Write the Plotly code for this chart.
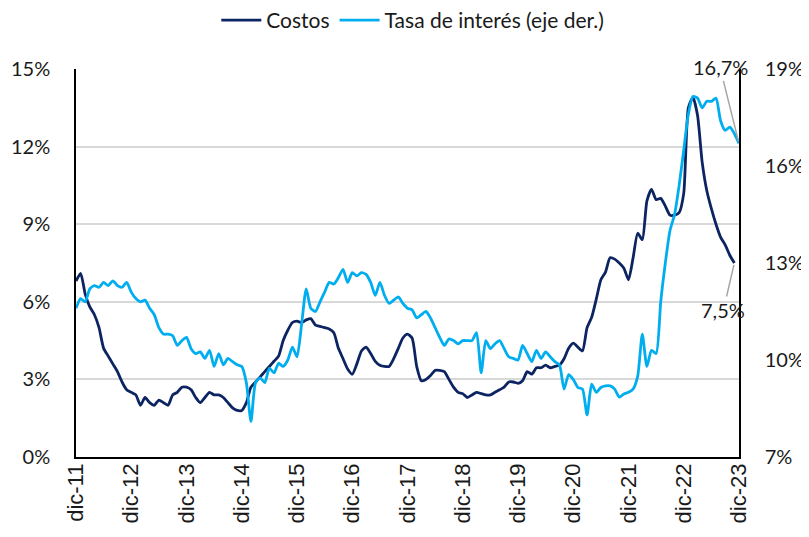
import plotly.graph_objects as go

tick_labels = ["dic-11", "dic-12", "dic-13", "dic-14", "dic-15", "dic-16", "dic-17",
               "dic-18", "dic-19", "dic-20", "dic-21", "dic-22", "dic-23"]
right_ticks = [7, 10, 13, 16, 19]
left_ticks = [0, 3, 6, 9, 12, 15]

costos = [6.8, 7.1, 6.3, 5.8, 5.5, 5.0, 4.2, 3.9, 3.6, 3.3, 2.9, 2.6,
          2.5, 2.4, 2.0, 2.3, 2.1, 2.0, 2.2, 2.1, 2.0, 2.4, 2.5, 2.7,
          2.7, 2.6, 2.3, 2.1, 2.3, 2.5, 2.4, 2.4, 2.3, 2.1, 1.9, 1.8,
          1.8, 2.1, 2.7, 2.9, 3.1, 3.3, 3.5, 3.7, 3.9, 4.5, 4.9, 5.2,
          5.25, 5.2, 5.3, 5.35, 5.1, 5.05, 5.0, 4.95, 4.8, 4.2, 3.8, 3.4,
          3.2, 3.6, 4.1, 4.25, 4.0, 3.7, 3.55, 3.5, 3.5, 3.8, 4.2, 4.6,
          4.75, 4.6, 3.5, 2.95, 3.0, 3.15, 3.35, 3.35, 3.3, 3.0, 2.7, 2.5,
          2.45, 2.3, 2.4, 2.5, 2.45, 2.4, 2.4, 2.5, 2.6, 2.7, 2.9, 2.9,
          2.85, 2.95, 3.3, 3.2, 3.45, 3.45, 3.55, 3.45, 3.5, 3.55, 3.8, 4.2,
          4.4, 4.25, 4.1, 5.0, 5.4, 6.1, 6.85, 7.15, 7.7, 7.65, 7.5, 7.3,
          6.85, 7.7, 8.65, 8.4, 9.9, 10.35, 9.95, 10.0, 9.7, 9.35, 9.35, 9.45,
          10.2, 13.5, 13.9, 13.2, 11.4, 10.3, 9.6, 9.0, 8.5, 8.2, 7.8, 7.5]

tasa = [11.6, 11.9, 11.8, 12.2, 12.3, 12.25, 12.4, 12.3, 12.45, 12.3, 12.25, 12.4,
        12.1, 11.9, 11.8, 11.85, 11.6, 11.4, 11.0, 10.8, 10.8, 10.75, 10.45, 10.6,
        10.7, 10.35, 10.2, 10.25, 10.05, 10.3, 9.8, 10.2, 9.85, 10.05, 9.95, 9.85,
        9.8, 9.3, 8.1, 9.3, 9.45, 9.3, 9.75, 9.6, 9.9, 9.8, 10.0, 10.4,
        10.1, 11.1, 12.2, 11.6, 11.5, 11.8, 12.1, 12.4, 12.35, 12.55, 12.8, 12.4,
        12.7, 12.6, 12.7, 12.65, 12.4, 12.0, 12.4, 12.0, 11.75, 11.85, 11.95, 11.75,
        11.6, 11.55, 11.3, 11.4, 11.5, 11.3, 11.0, 10.7, 10.45, 10.65, 10.6, 10.5,
        10.6, 10.6, 10.6, 10.85, 9.6, 10.6, 10.35, 10.5, 10.6, 10.35, 10.1, 10.05,
        10.0, 10.45, 10.2, 9.95, 10.3, 10.05, 10.25, 10.1, 9.95, 9.85, 9.1, 9.55,
        9.4, 9.15, 9.1, 8.3, 9.25, 9.0, 9.15, 9.2, 9.2, 9.1, 8.85, 8.95,
        9.0, 9.1, 9.5, 10.8, 9.8, 10.3, 10.2, 11.8, 13.0, 14.0, 14.5, 15.4,
        16.5, 17.6, 18.15, 18.1, 17.8, 18.0, 18.0, 18.1, 17.4, 17.1, 17.2, 17.0,
        16.7]

x_costos = list(range(len(costos)))
x_tasa = list(range(len(tasa)))
tick_vals = [12 * k for k in range(len(tick_labels))]

DARK = "#0C2461"
LIGHT = "#00AEEF"
TXT = "#1a1a1a"
FONT = "Lato, Liberation Sans Narrow, sans-serif"

fig = go.Figure()
fig.add_trace(go.Scatter(x=x_costos, y=costos, name="Costos", mode="lines",
                         line=dict(color=DARK, width=2.8, shape="spline", smoothing=0.6),
                         yaxis="y"))
fig.add_trace(go.Scatter(x=x_tasa, y=tasa, name="Tasa de interés (eje der.)", mode="lines",
                         line=dict(color=LIGHT, width=2.8, shape="spline", smoothing=0.6),
                         yaxis="y2"))

fig.add_annotation(x=x_tasa[-1], y=tasa[-1], xref="x", yref="y2",
                   text=f"{tasa[-1]:.1f}%".replace(".", ","),
                   showarrow=True, arrowhead=0, arrowwidth=1.5, arrowcolor="#a6a6a6",
                   ax=-19, ay=-76, standoff=2,
                   font=dict(family=FONT, size=20, color=TXT))
fig.add_annotation(x=x_costos[-1], y=costos[-1], xref="x", yref="y",
                   text=f"{costos[-1]:.1f}%".replace(".", ","),
                   showarrow=True, arrowhead=0, arrowwidth=1.5, arrowcolor="#a6a6a6",
                   ax=-11, ay=47, standoff=2,
                   font=dict(family=FONT, size=20, color=TXT))

fig.update_layout(
    width=801, height=529,
    margin=dict(l=68, r=70, t=61, b=80, autoexpand=False),
    paper_bgcolor="white", plot_bgcolor="white",
    showlegend=True,
    legend=dict(orientation="h", x=0.508, xanchor="center", y=1.178, yanchor="top",
                yref="paper", font=dict(family=FONT, size=21, color=TXT),
                itemwidth=40, tracegroupgap=0),
    xaxis=dict(range=[0, 144], tickvals=tick_vals, ticktext=tick_labels,
               tickangle=-90, showgrid=False, zeroline=False, automargin=False,
               showline=True, linecolor="black", linewidth=1.5,
               ticks="", ticklabelstandoff=-4,
               tickfont=dict(family="Liberation Sans, Arial, sans-serif", size=22, color=TXT)),
    yaxis=dict(range=[0, 15], tickvals=left_ticks, ticktext=[f"{v}%" for v in left_ticks],
               showgrid=True, gridcolor="#d9d9d9", gridwidth=1.5, zeroline=False,
               showline=True, linecolor="black", linewidth=1.5, ticks="", automargin=False,
               ticklabelstandoff=20,
               tickfont=dict(family=FONT, size=20, color=TXT)),
    yaxis2=dict(range=[7, 19], tickvals=right_ticks, ticktext=[f"{v}%" for v in right_ticks],
                overlaying="y", side="right", showgrid=False, zeroline=False,
                showline=True, linecolor="black", linewidth=1.5, ticks="", automargin=False,
                ticklabelstandoff=20,
                tickfont=dict(family=FONT, size=20, color=TXT)),
)

fig.write_html("out.html")
